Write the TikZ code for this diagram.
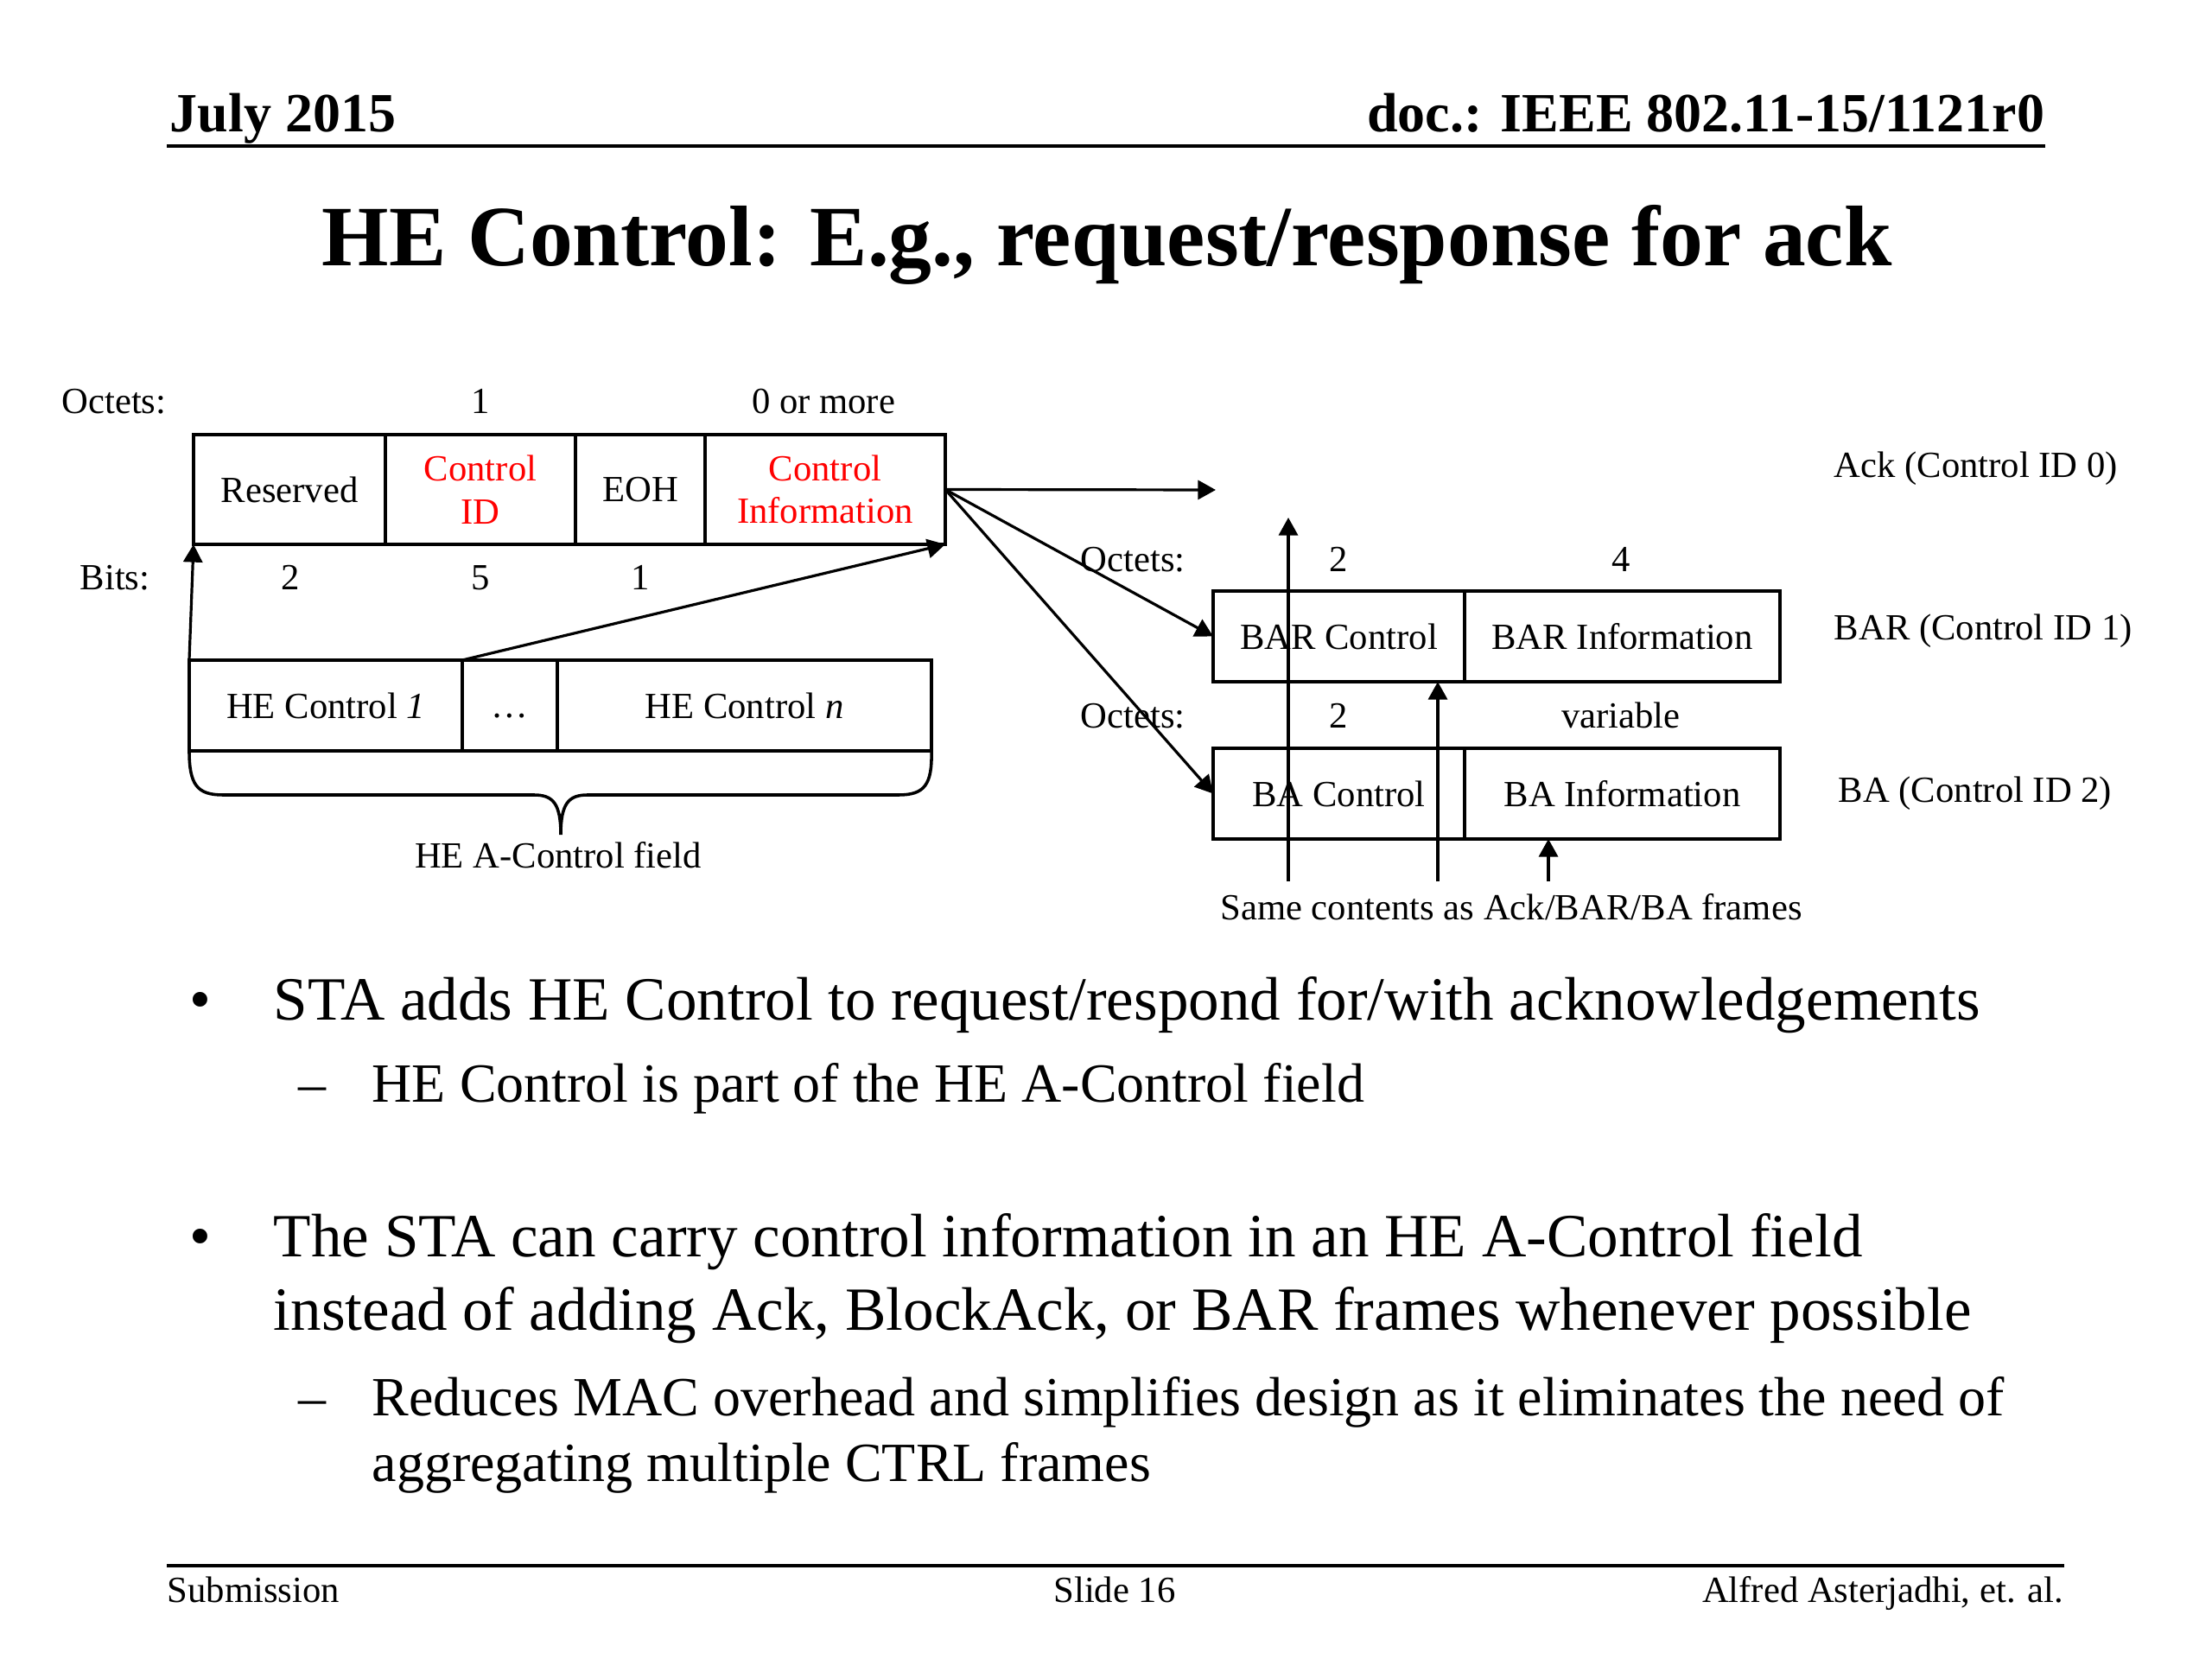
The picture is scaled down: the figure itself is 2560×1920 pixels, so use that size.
\documentclass[tikz,border=0pt]{standalone}
\usepackage{fontspec}
\setmainfont{Liberation Serif}
\usetikzlibrary{positioning,arrows.meta}
\newcommand\pxl{0.28125pt}
\begin{document}
\begin{tikzpicture}[x=0.28125pt,y=-0.28125pt,line join=miter,>={Triangle[length=5.8pt,width=6.2pt]},
  field/.style={draw,line width=1pt,inner sep=0pt,outer sep=0pt,align=center,font=\fontsize{12}{14}\selectfont},
  toprow/.style={field,minimum height=127*\pxl},
  lowrow/.style={field,minimum height=105*\pxl},
  lbl/.style={inner sep=0pt,anchor=base,font=\fontsize{12}{14}\selectfont},
  bigtxt/.style={inner sep=0pt,anchor=base west,font=\fontsize{20}{24}\selectfont},
  subtxt/.style={inner sep=0pt,anchor=base west,font=\fontsize{18}{21}\selectfont},
  conn/.style={line width=0.9pt,->}]
  \useasboundingbox (0,0) rectangle (2560,1920);
  % header and title
  \node[inner sep=0pt,anchor=base west,font=\fontsize{18}{21}\selectfont\bfseries] (date) at (196,153) {July 2015};
  \node[inner sep=0pt,anchor=base east,font=\fontsize{18}{21}\selectfont\bfseries] (docid) at (2367,153) {doc.: IEEE 802.11-15/1121r0};
  \draw[line width=1.2pt] (193,169) -- (2367,169);
  \node[inner sep=0pt,anchor=base,font=\fontsize{28}{34}\selectfont\bfseries] (title) at (1281,308) {HE Control: E.g., request/response for ack};

  % HE Control field
  \node[toprow,minimum width=222*\pxl,anchor=north west] (resv) at (224,503) {Reserved};
  \node[toprow,minimum width=220*\pxl,right=0pt of resv,text=red] (cid) {Control\\ID};
  \node[toprow,minimum width=150*\pxl,right=0pt of cid] (eoh) {EOH};
  \node[toprow,minimum width=278*\pxl,right=0pt of eoh,text=red] (cinfo) {Control\\Information};
  \node[lbl] (octs) at (132,479) {Octets:};
  \node[lbl] (octcid) at (556,479) {1};
  \node[lbl] (octinfo) at (953,479) {0 or more};
  \node[lbl] (bits) at (133,683) {Bits:};
  \node[lbl] (bitresv) at (336,683) {2};
  \node[lbl] (bitcid) at (556,683) {5};
  \node[lbl] (biteoh) at (741,683) {1};

  % HE A-Control field
  \node[lowrow,minimum width=316*\pxl,anchor=north west] (hecone) at (219,764) {HE Control \textit{1}};
  \node[lowrow,minimum width=110*\pxl,right=0pt of hecone] (hecdots) {\vphantom{HE}…};
  \node[lowrow,minimum width=433*\pxl,right=0pt of hecdots] (hecn) {HE Control \textit{n}};
  \draw[line width=1pt] (hecone.south west) .. controls (219,908) and (228,920) .. (258,920) -- (618,920)
    .. controls (640,920) and (649,930) .. (649,966) .. controls (649,930) and (658,920) .. (680,920)
    -- (1040,920) .. controls (1070,920) and (1079,908) .. (hecn.south east);
  \node[lbl] (acfield) at (646,1004) {HE A-Control field};

  % Ack / BAR / BA frames
  \node[lowrow,minimum width=291*\pxl,anchor=north west] (barc) at (1404,684) {BAR Control};
  \node[lowrow,minimum width=365*\pxl,right=0pt of barc] (bari) {BAR Information};
  \node[lowrow,minimum width=291*\pxl,anchor=north west] (bac) at (1404,866) {BA Control};
  \node[lowrow,minimum width=365*\pxl,right=0pt of bac] (bai) {BA Information};
  \node[lbl] (octbar) at (1311,662) {Octets:};
  \node[lbl] (octbarc) at (1549,662) {2};
  \node[lbl] (octbari) at (1876,662) {4};
  \node[lbl] (octba) at (1311,842) {Octets:};
  \node[lbl] (octbac) at (1549,842) {2};
  \node[lbl] (octbai) at (1876,842) {variable};
  \node[lbl,anchor=base west] (acklbl) at (2122,553) {Ack (Control ID 0)};
  \node[lbl,anchor=base west] (barlbl) at (2122,741) {BAR (Control ID 1)};
  \node[lbl,anchor=base west] (balbl) at (2127,929) {BA (Control ID 2)};
  \node[lbl] (same) at (1749,1064) {Same contents as Ack/BAR/BA frames};

  \coordinate (ackend) at (1407,567);
  \coordinate (upa) at (1491,1020);
  \coordinate (upaend) at (1491,599);
  \coordinate (upb) at (1664,1020);
  \coordinate (upc) at (1792,1020);

  \draw[conn] (hecone.north west) -- (resv.south west);
  \draw[conn] (hecone.north east) -- (cinfo.south east);
  \draw[conn] (cinfo.east) -- (ackend);
  \draw[conn] (cinfo.east) -- (barc.west);
  \draw[conn] (cinfo.east) -- (bac.west);
  \draw[conn] (upa) -- (upaend);
  \draw[conn] (upb) -- (upb |- barc.south);
  \draw[conn] (upc) -- (upc |- bai.south);

  % bullets
  \node[bigtxt,anchor=base] (bulla) at (232,1180) {•};
  \node[bigtxt] (linea) at (316,1180) {STA adds HE Control to request/respond for/with acknowledgements};
  \node[subtxt,anchor=base] (dasha) at (361,1275) {–};
  \node[subtxt] (subla) at (430,1275) {HE Control is part of the HE A-Control field};
  \node[bigtxt,anchor=base] (bullb) at (232,1454) {•};
  \node[bigtxt] (lineb) at (316,1454) {The STA can carry control information in an HE A-Control field};
  \node[bigtxt] (linec) at (316,1539) {instead of adding Ack, BlockAck, or BAR frames whenever possible};
  \node[subtxt,anchor=base] (dashb) at (361,1638) {–};
  \node[subtxt] (sublb) at (430,1638) {Reduces MAC overhead and simplifies design as it eliminates the need of};
  \node[subtxt] (sublc) at (430,1714) {aggregating multiple CTRL frames};

  % footer
  \draw[line width=1.2pt] (193,1812) -- (2389,1812);
  \node[lbl,anchor=base west] (subm) at (193,1854) {Submission};
  \node[lbl] (slide) at (1290,1854) {Slide 16};
  \node[lbl,anchor=base east] (author) at (2389,1854) {Alfred Asterjadhi, et. al.};
\end{tikzpicture}
\end{document}
